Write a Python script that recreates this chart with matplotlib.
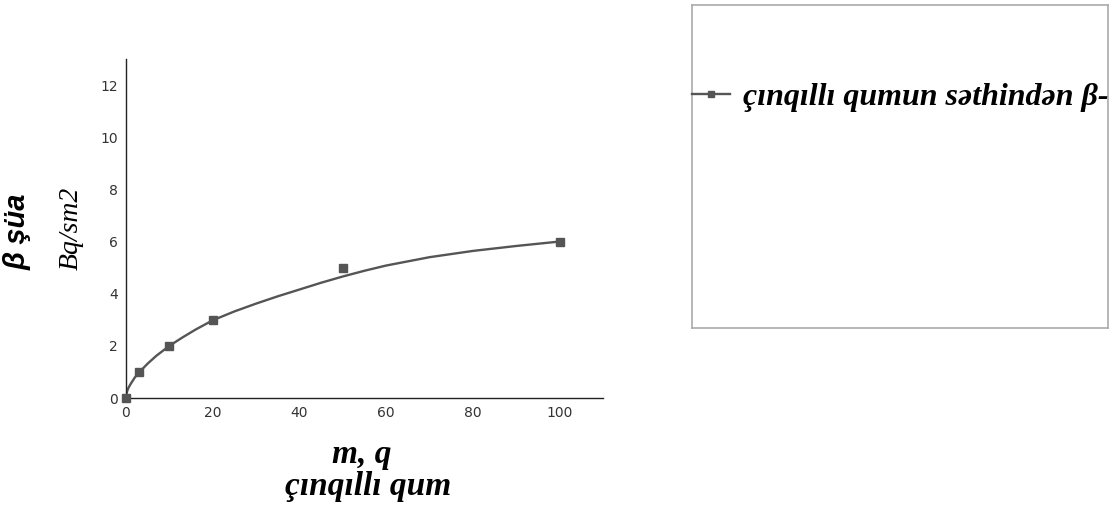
import matplotlib
matplotlib.use('Agg')
import matplotlib.pyplot as plt
from matplotlib.lines import Line2D

# measured points
mass = [0, 3, 10, 20, 50, 100]
activity = [0, 1, 2, 3, 5, 6]

# trend curve
curve_x = [0, 0.1, 0.3, 0.6, 1, 1.5, 2, 3, 4, 5, 7, 10, 13, 16, 20, 25, 30, 35,
           40, 45, 50, 55, 60, 70, 80, 90, 100]
curve_y = [0, 0.15, 0.28, 0.4, 0.52, 0.65, 0.78, 0.98, 1.15, 1.32, 1.62, 2.0,
           2.32, 2.62, 2.98, 3.32, 3.62, 3.9, 4.16, 4.42, 4.66, 4.88, 5.08,
           5.4, 5.64, 5.83, 6.0]

x_ticks = [0, 20, 40, 60, 80, 100]
y_ticks = [0, 2, 4, 6, 8, 10, 12]

legend_label = 'çınqıllı qumun səthindən β-'
gray = '#555555'
serif = ['Liberation Serif', 'DejaVu Serif']

fig = plt.figure(figsize=(11.19, 5.05), dpi=100)
ax = fig.add_axes([126 / 1119, 1 - 398 / 505, 477 / 1119, 339 / 505])

ax.plot(curve_x, curve_y, color=gray, linewidth=1.7, zorder=2)
ax.plot(mass, activity, linestyle='none', marker='s', markersize=6,
        color=gray, zorder=3, clip_on=False)

ax.set_xlim(0, 110)
ax.set_ylim(0, 13)
ax.set_xticks(x_ticks)
ax.set_yticks(y_ticks)
ax.tick_params(length=0, labelsize=10, labelcolor='#333333', pad=6)
for s in ['top', 'right']:
    ax.spines[s].set_visible(False)
for s in ['left', 'bottom']:
    ax.spines[s].set_color('#222222')
    ax.spines[s].set_linewidth(1.0)

# axis titles
fig.text(18 / 1119, 1 - 232 / 505, 'β şüa', rotation=90, ha='center', va='center',
         fontsize=21, fontweight='bold', fontstyle='italic',
         family=['Liberation Sans', 'DejaVu Sans'])
fig.text(71 / 1119, 1 - 228 / 505, 'Bq/sm2', rotation=90, ha='center', va='center',
         fontsize=20, fontstyle='italic', family=serif)
fig.text(362 / 1119, 1 - 454 / 505, 'm, q', ha='center', va='center',
         fontsize=24, fontweight='bold', fontstyle='italic', family=serif)
fig.text(368 / 1119, 1 - 486 / 505, 'çınqıllı qum', ha='center', va='center',
         fontsize=24, fontweight='bold', fontstyle='italic', family=serif)

# legend box
lax = fig.add_axes([692 / 1119, 1 - 328 / 505, 416 / 1119, 323 / 505])
lax.set_xticks([])
lax.set_yticks([])
for s in lax.spines.values():
    s.set_color('#aaaaaa')
    s.set_linewidth(1.2)
handle = Line2D([], [], color=gray, linewidth=1.7, marker='s', markersize=5)
lax.legend([handle], [legend_label], loc='center left', bbox_to_anchor=(0, 0.715),
           frameon=False, borderpad=0, borderaxespad=0, handlelength=1.2,
           handletextpad=0.4,
           prop={'family': serif, 'size': 23, 'weight': 'bold', 'style': 'italic'})

fig.savefig('out.png', dpi=100)
